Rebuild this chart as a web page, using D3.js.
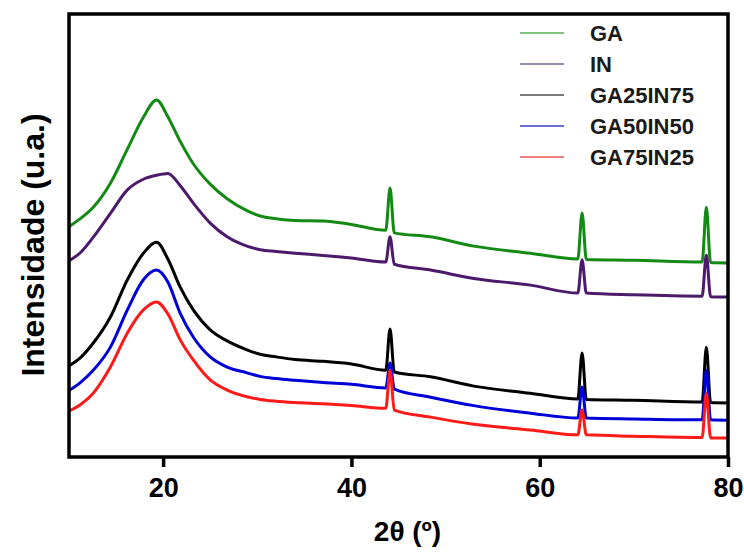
<!DOCTYPE html>
<html>
<head>
<meta charset="utf-8">
<script src="https://cdn.jsdelivr.net/npm/d3@7"></script>
<style>
  body { margin: 0; background: #fff; }
  svg text { font-family: "Liberation Sans", Arial, sans-serif; }
</style>
</head>
<body>
<div id="chart"></div>
<script>
var svgWidth = 744;
var svgHeight = 553;

var margin = { top: 14, right: 16, bottom: 96, left: 69 };
var width = svgWidth - margin.left - margin.right;
var height = svgHeight - margin.top - margin.bottom;

// 2theta grid (degrees) shared by all patterns
var twoTheta = [10, 11.2, 12.5, 14.4, 16.2, 17.9, 19.3, 20.5, 21.8, 23.2, 25, 26.8, 28.9, 30.3, 32, 34, 37, 40,
  43.65, 44.1, 44.55, 48.4, 53, 59, 64.05, 64.5, 64.95, 70, 77.25, 77.7, 78.15, 80];

// intensities (a.u.)
var gaValues = [52, 53.8, 56.2, 61.8, 69.5, 76.7, 80.6, 76.8, 71.3, 66.2, 61.6, 58.3, 55.6, 54.4, 53.8, 53.4, 53.3, 52.5,
  51.2, 60.7, 50.6, 49.7, 47.6, 46, 44.7, 55.1, 44.6, 44.4, 44, 56.4, 43.9, 43.8];
var inValues = [44.3, 46.1, 49.4, 55, 60.3, 62.7, 63.6, 64, 61.3, 57.3, 52.8, 49.7, 47.6, 46.8, 46.4, 46, 45.5, 44.9,
  44, 49.7, 43.5, 42.2, 40.3, 38.8, 37, 44.5, 37, 36.6, 36.3, 45.6, 36.2, 36.1];
var ga25Values = [20.6, 22.4, 25.5, 31.6, 40, 46, 48.5, 44.7, 38.4, 33.2, 28.7, 26.2, 24.2, 23.2, 22.6, 22, 21.6, 21,
  19.6, 28.9, 19.2, 18.1, 16, 14.4, 13.1, 23.5, 13, 12.8, 12.4, 24.8, 12.3, 12.2];
var ga50Values = [15, 16.8, 19.4, 24.8, 33.2, 40, 42.2, 39.5, 32.5, 27.1, 22.6, 20.3, 19, 18.2, 17.7, 17.3, 16.8, 16.4,
  15.6, 21.2, 15.3, 13.5, 11.6, 9.9, 8.8, 15.8, 8.8, 8.6, 8.4, 19.6, 8.4, 8.3];
var ga75Values = [10.4, 11.8, 14.2, 20.3, 28, 33.2, 35, 32.3, 26.5, 21.9, 17.4, 15.1, 13.6, 13, 12.6, 12.3, 12, 11.6,
  11, 19.6, 10.6, 9, 7.4, 6.1, 5, 10.6, 5, 4.7, 4.4, 14.4, 4.3, 4.3];

var seriesNames = ["GA", "IN", "GA25IN75", "GA50IN50", "GA75IN25"];
var seriesColors = ["#138a13", "#4b1a6b", "#000000", "#0000d8", "#ff1a1a"];
var legendColors = ["#7ec47e", "#9a8cb0", "#7a7a7a", "#6e6ed0", "#f08080"];
var xTicks = [20, 40, 60, 80];

var allSeries = [gaValues, inValues, ga25Values, ga50Values, ga75Values];

var svg = d3.select("#chart")
  .append("svg")
  .attr("width", svgWidth)
  .attr("height", svgHeight);

var chartGroup = svg.append("g")
  .attr("transform", `translate(${margin.left}, ${margin.top})`);

var xScale = d3.scaleLinear().domain([10, 80]).range([0, width]);
var yScale = d3.scaleLinear().domain([0, 100]).range([height, 0]);

var line = d3.line()
  .x((d, i) => xScale(twoTheta[i]))
  .y(d => yScale(d))
  .curve(d3.curveMonotoneX);

allSeries.forEach(function(vals, k) {
  chartGroup.append("path")
    .datum(vals)
    .attr("d", line)
    .attr("fill", "none")
    .attr("stroke", seriesColors[k])
    .attr("stroke-width", 3)
    .attr("stroke-linejoin", "round");
});

// frame
chartGroup.append("rect")
  .attr("x", 0).attr("y", 0)
  .attr("width", width).attr("height", height)
  .attr("fill", "none")
  .attr("stroke", "#000")
  .attr("stroke-width", 3.5);

// x axis
var xAxis = d3.axisBottom(xScale).tickValues(xTicks).tickSize(10).tickPadding(11);
var xg = chartGroup.append("g")
  .attr("transform", `translate(0, ${height})`)
  .call(xAxis);
xg.select(".domain").remove();
xg.selectAll(".tick line").attr("stroke", "#000").attr("stroke-width", 3.5);
xg.selectAll(".tick text")
  .attr("fill", "#000")
  .style("font-size", "27px")
  .style("font-weight", "bold");

// axis titles
chartGroup.append("text")
  .attr("transform", `translate(${width / 2 + 9}, ${height + 84})`)
  .attr("text-anchor", "middle")
  .style("font-size", "28px")
  .style("font-weight", "bold")
  .text("2θ (º)");

svg.append("text")
  .attr("transform", "translate(44, 245) rotate(-90)")
  .attr("text-anchor", "middle")
  .style("font-size", "32px")
  .style("font-weight", "bold")
  .text("Intensidade (u.a.)");

// legend
var legend = chartGroup.append("g")
  .attr("transform", "translate(451, 19)");
seriesNames.forEach(function(name, k) {
  var row = legend.append("g").attr("transform", `translate(0, ${k * 31})`);
  row.append("line")
    .attr("x1", 0).attr("x2", 44)
    .attr("y1", 0).attr("y2", 0)
    .attr("stroke", legendColors[k])
    .attr("stroke-width", 2);
  row.append("text")
    .attr("x", 70).attr("y", 8)
    .style("font-size", "22px")
    .style("font-weight", "bold")
    .attr("fill", "#1a1a1a")
    .text(name);
});
</script>
</body>
</html>
